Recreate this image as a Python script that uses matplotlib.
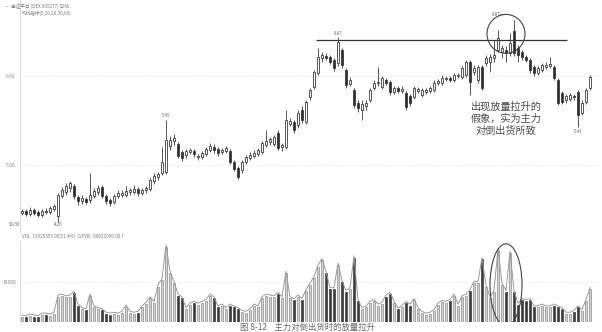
import matplotlib.pyplot as plt
from matplotlib.patches import Ellipse
import numpy as np

plt.rcParams['font.family'] = ['Noto Sans CJK SC', 'DejaVu Sans']

# daily candles (price)
opens = [4.14, 4.17, 4.12, 4.19, 4.15, 4.10, 4.17, 4.15, 4.21, 4.08,
         4.44, 4.51, 4.59, 4.62, 4.42, 4.35, 4.39, 4.37, 4.44, 4.51,
         4.60, 4.44, 4.37, 4.33, 4.44, 4.46, 4.46, 4.51, 4.51, 4.57,
         4.50, 4.55, 4.57, 4.71, 4.78, 4.86, 4.87, 5.34, 5.43, 5.38,
         5.23, 5.18, 5.23, 5.25, 5.14, 5.14, 5.20, 5.27, 5.32, 5.29,
         5.23, 5.25, 5.25, 5.05, 4.95, 4.91, 5.05, 5.13, 5.16, 5.20,
         5.23, 5.36, 5.41, 5.38, 5.58, 5.32, 5.32, 5.74, 5.77, 5.72,
         5.99, 5.77, 6.22, 6.40, 6.66, 6.93, 6.96, 6.94, 6.89, 6.84,
         7.07, 6.71, 6.46, 6.35, 6.12, 5.99, 6.06, 6.17, 6.39, 6.48,
         6.40, 6.53, 6.49, 6.31, 6.39, 6.33, 6.30, 6.24, 6.22, 6.33,
         6.26, 6.31, 6.33, 6.35, 6.48, 6.48, 6.55, 6.57, 6.53, 6.60,
         6.58, 6.62, 6.85, 6.67, 6.53, 6.76, 6.84, 6.85, 6.93, 7.07,
         7.03, 7.07, 7.02, 7.41, 7.11, 7.03, 6.94, 6.89, 6.76, 6.66,
         6.71, 6.76, 6.78, 6.76, 6.53, 6.30, 6.17, 6.19, 6.24, 6.31,
         5.94, 6.13, 6.39]
closes = [4.17, 4.12, 4.19, 4.14, 4.10, 4.17, 4.15, 4.23, 4.26, 4.46,
          4.55, 4.62, 4.68, 4.44, 4.35, 4.41, 4.33, 4.46, 4.53, 4.59,
          4.44, 4.35, 4.32, 4.44, 4.50, 4.50, 4.53, 4.54, 4.57, 4.50,
          4.55, 4.59, 4.73, 4.80, 4.84, 5.05, 5.45, 5.45, 5.49, 5.16,
          5.13, 5.25, 5.27, 5.20, 5.16, 5.22, 5.29, 5.34, 5.27, 5.22,
          5.27, 5.31, 5.05, 4.93, 4.78, 5.05, 5.14, 5.18, 5.22, 5.27,
          5.40, 5.43, 5.47, 5.50, 5.31, 5.36, 5.81, 5.79, 5.63, 5.94,
          5.81, 6.13, 6.35, 6.67, 6.94, 6.98, 6.93, 6.85, 6.75, 7.21,
          6.80, 6.44, 6.53, 6.08, 6.03, 6.10, 6.12, 6.35, 6.48, 6.49,
          6.57, 6.48, 6.31, 6.39, 6.33, 6.37, 6.04, 6.12, 6.39, 6.37,
          6.35, 6.35, 6.39, 6.48, 6.51, 6.57, 6.57, 6.53, 6.62, 6.62,
          6.75, 6.85, 6.49, 6.75, 6.76, 6.39, 6.93, 6.94, 6.98, 7.29,
          7.11, 7.02, 7.20, 7.02, 6.98, 6.94, 6.89, 6.71, 6.66, 6.75,
          6.80, 6.80, 6.82, 6.57, 6.12, 6.13, 6.24, 6.26, 6.22, 5.90,
          6.12, 6.35, 6.58]
highs = [4.21, 4.21, 4.24, 4.23, 4.19, 4.21, 4.23, 4.26, 4.30, 4.50,
         4.60, 4.68, 4.71, 4.66, 4.46, 4.46, 4.42, 4.86, 4.59, 4.64,
         4.64, 4.48, 4.41, 4.48, 4.55, 4.55, 4.62, 4.59, 4.64, 4.60,
         4.59, 4.62, 4.77, 4.86, 4.87, 5.32, 5.81, 5.52, 5.56, 5.41,
         5.27, 5.29, 5.31, 5.29, 5.20, 5.25, 5.32, 5.40, 5.38, 5.32,
         5.31, 5.34, 5.29, 5.09, 4.98, 5.09, 5.18, 5.23, 5.27, 5.31,
         5.43, 5.63, 5.50, 5.54, 5.63, 5.40, 5.99, 5.85, 5.81, 5.99,
         6.06, 6.17, 6.39, 6.71, 7.11, 7.03, 7.02, 6.98, 6.93, 7.30,
         7.11, 6.75, 6.58, 6.39, 6.17, 6.17, 6.17, 6.39, 6.53, 6.76,
         6.60, 6.57, 6.53, 6.42, 6.42, 6.42, 6.33, 6.28, 6.42, 6.40,
         6.39, 6.39, 6.42, 6.53, 6.55, 6.62, 6.60, 6.60, 6.66, 6.66,
         6.78, 6.89, 6.89, 6.80, 6.80, 6.80, 6.98, 7.00, 7.25, 7.43,
         7.16, 7.14, 7.38, 7.61, 7.16, 7.07, 6.98, 6.93, 6.80, 6.78,
         6.84, 6.85, 6.94, 6.80, 6.57, 6.33, 6.28, 6.30, 6.28, 6.35,
         6.17, 6.39, 6.62]
lows = [4.10, 4.08, 4.08, 4.10, 4.06, 4.06, 4.12, 4.12, 4.17, 3.97,
        4.41, 4.46, 4.51, 4.39, 4.28, 4.30, 4.30, 4.32, 4.41, 4.46,
        4.41, 4.30, 4.26, 4.30, 4.41, 4.42, 4.42, 4.46, 4.48, 4.44,
        4.46, 4.50, 4.53, 4.66, 4.73, 4.82, 4.84, 5.27, 5.36, 5.13,
        5.07, 5.13, 5.20, 5.14, 5.09, 5.11, 5.16, 5.23, 5.22, 5.16,
        5.20, 5.22, 5.02, 4.89, 4.75, 4.86, 5.02, 5.09, 5.13, 5.16,
        5.20, 5.32, 5.36, 5.34, 5.27, 5.25, 5.29, 5.70, 5.58, 5.67,
        5.76, 5.74, 6.17, 6.37, 6.62, 6.85, 6.89, 6.82, 6.69, 6.78,
        6.75, 6.39, 6.42, 6.03, 5.95, 5.81, 5.99, 6.13, 6.35, 6.42,
        6.37, 6.44, 6.26, 6.28, 6.30, 6.30, 5.99, 6.06, 6.19, 6.30,
        6.22, 6.28, 6.30, 6.31, 6.44, 6.44, 6.51, 6.49, 6.49, 6.57,
        6.55, 6.58, 6.26, 6.62, 6.48, 6.35, 6.78, 6.67, 6.85, 7.03,
        6.93, 6.85, 6.96, 6.96, 6.85, 6.89, 6.85, 6.66, 6.60, 6.62,
        6.67, 6.73, 6.75, 6.53, 6.08, 6.10, 6.12, 6.15, 6.17, 5.68,
        5.90, 6.10, 6.35]
volume = [1360, 1140, 1590, 1360, 1140, 1820, 1820, 1590, 2040, 6360,
          6580, 6130, 6360, 7260, 4090, 3180, 2950, 6580, 3630, 3180,
          2950, 2040, 1820, 2040, 1820, 2270, 3860, 2270, 2040, 2270,
          3630, 4540, 5900, 4770, 8850, 10440, 18840, 12260, 9760, 6580,
          5900, 3180, 4310, 4770, 4310, 4770, 5220, 6580, 5900, 3630,
          4090, 3180, 4090, 3630, 3180, 2500, 2270, 2950, 4090, 3630,
          5900, 6580, 6360, 6130, 7040, 5900, 12260, 5900, 5450, 6360,
          5450, 7720, 9310, 10900, 13850, 15440, 12260, 8170, 8170, 14300,
          9990, 7490, 8170, 16120, 5220, 3180, 3630, 4770, 5220, 4090,
          4540, 6360, 7040, 4770, 3180, 3630, 4770, 4090, 5450, 3180,
          2270, 1820, 2040, 2720, 4310, 4990, 4770, 5220, 6580, 4090,
          6130, 6580, 7720, 9760, 9760, 15660, 8850, 5900, 7490, 17930,
          9310, 7490, 17250, 7490, 4310, 5450, 5220, 5450, 3630, 3630,
          4090, 3630, 3630, 4090, 3630, 3180, 2040, 2040, 2500, 3630,
          2720, 5220, 8170]

price_ticks = [5.00, 6.60]
price_tick_labels = ["5.00", "6.60"]
vol_ticks = [10000]
vol_tick_labels = ["10000"]
resistance = 7.25
note = "出现放量拉升的\n假象，实为主力\n对倒出货所致"

o = np.array(opens)
c = np.array(closes)
h = np.array(highs)
l = np.array(lows)
v = np.array(volume)
x = np.arange(len(c))
up = c >= o

fig = plt.figure(figsize=(6.02, 3.32), dpi=100)
W, H = 602, 332
axp = fig.add_axes([20 / W, 100 / H, 580 / W, 232 / H])
axv = fig.add_axes([20 / W, 10 / H, 580 / W, 82 / H])

edge = "#3a3a3a"
# wicks
axp.vlines(x, l, h, color=edge, lw=0.6, zorder=2)
# bodies
body = np.maximum(np.abs(c - o), 0.012)
axp.bar(x[up], body[up], bottom=o[up], width=0.7, color="white",
        edgecolor=edge, lw=0.6, zorder=3)
axp.bar(x[~up], body[~up], bottom=c[~up], width=0.7, color="#2e2e2e",
        edgecolor=edge, lw=0.6, zorder=3)

axp.set_xlim(-0.5, 144.5)
axp.set_ylim(3.79, 7.97)
for t in price_ticks:
    axp.axhline(t, color="#d8d8d8", lw=0.5, ls=(0, (1, 2)), zorder=0)
axp.set_yticks(price_ticks)
axp.set_yticklabels(price_tick_labels, fontsize=3.5, color="#888888")
axp.tick_params(axis="y", length=0, pad=3)
axp.set_xticks([])

# resistance line and circle
axp.hlines(resistance, 73.5, 136.3, color="#333333", lw=0.9, zorder=4)
axp.add_patch(Ellipse((121, 7.36), 9.5, 0.70, fill=False, ec="#444444", lw=0.8, zorder=5))

# price labels
axp.text(36, 5.84, "5.45", fontsize=3.2, color="#666666", ha="center", va="bottom")
axp.text(79, 7.33, "8.87", fontsize=3.2, color="#666666", ha="center", va="bottom")
axp.text(119, 7.66, "8.87一", fontsize=3.2, color="#666666", ha="center", va="bottom")
axp.text(139, 5.64, "5.41", fontsize=3.2, color="#666666", ha="center", va="top")
axp.text(9, 3.92, "4.26", fontsize=3.2, color="#666666", ha="center", va="center")
axp.text(-0.5, 3.92, "93/30", fontsize=3.2, color="#666666", ha="right", va="center")

axp.text(121, 6.15, note, fontsize=7.3, color="#4a4a4a", ha="center", va="top",
         linespacing=1.25)

# volume
axv.bar(x[up], v[up], width=0.72, color="#d4d4d4", edgecolor="#8a8a8a", lw=0.5)
axv.bar(x[~up], v[~up], width=0.72, color="#3c3c3c", edgecolor="#3c3c3c", lw=0.5)
axv.plot(x, v + 400, color="#9a9a9a", lw=0.7)
axv.set_xlim(-0.5, 144.5)
axv.set_ylim(0, 20500)
for t in vol_ticks:
    axv.axhline(t, color="#d8d8d8", lw=0.5, ls=(0, (1, 2)), zorder=0)
axv.set_yticks(vol_ticks)
axv.set_yticklabels(vol_tick_labels, fontsize=3.5, color="#888888")
axv.tick_params(axis="y", length=0, pad=3)
axv.set_xticks([])
axv.add_patch(Ellipse((121, 9300), 8, 20500, fill=False, ec="#444444", lw=0.8, zorder=5))

for ax in (axp, axv):
    for s in ("top", "right", "bottom"):
        ax.spines[s].set_visible(False)
    ax.spines["left"].set_color("#cccccc")
    ax.spines["left"].set_linewidth(0.5)

# header texts
fig.text(5 / W, 1 - 6 / H, "—  金证平台 (DEX 605277) 日线", fontsize=3.3, color="#777777", va="center")
fig.text(22 / W, 1 - 13 / H, "均线指标(5,10,20,30,60)", fontsize=3.3, color="#777777", va="center")
fig.text(22 / W, 1 - 236 / H, "VOL  15926555.00(51.4%)   GPVB   99621056.00↑",
         fontsize=3.3, color="#777777", va="center")
fig.text(240 / W, 1 - 327 / H, "图 8-12    主力对倒出货时的放量拉升",
         fontsize=6, color="#666666", va="center")

fig.savefig("out.png", dpi=100, facecolor="white")
